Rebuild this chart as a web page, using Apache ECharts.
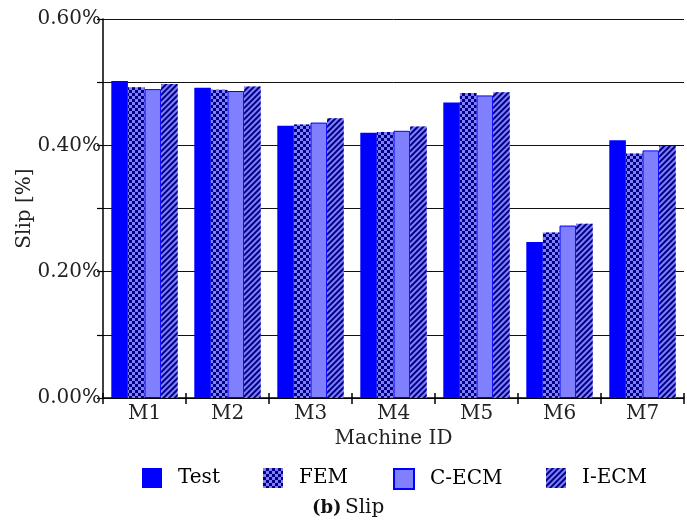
<!DOCTYPE html>
<html>
<head>
<meta charset="utf-8">
<script src="https://cdn.jsdelivr.net/npm/echarts@6/dist/echarts.min.js"></script>
<style>html,body{margin:0;padding:0;background:#fff}#c{width:687px;height:531px}</style>
</head>
<body>
<div id="c"></div>
<script>
const categories = ['M1','M2','M3','M4','M5','M6','M7'];
const seriesNames = ['Test','FEM','C-ECM','I-ECM'];
const testVals = [0.502,0.491,0.431,0.420,0.468,0.247,0.408];
const femVals  = [0.492,0.488,0.433,0.421,0.483,0.262,0.387];
const cecmVals = [0.489,0.486,0.436,0.423,0.479,0.273,0.392];
const iecmVals = [0.497,0.493,0.443,0.430,0.484,0.276,0.399];
const yTicks = [0, 0.2, 0.4, 0.6];

const FONT = 'DejaVu Serif';
const chart = echarts.init(document.getElementById('c'), null, {renderer:'canvas'});

const femDecal = {symbol:'rect', symbolSize:1, color:'#000080',
  dashArrayX:[[3,3],[0,3,3,0]], dashArrayY:[3,0], rotation:0};
const iecmDecal = {symbol:'rect', symbolSize:1, color:'#000080',
  dashArrayX:[1,0], dashArrayY:[2,2], rotation:-Math.PI/4};

const styles = [
  {color:'#0000ff'},
  {color:'#8080ff', decal:femDecal},
  {color:'#8080ff', borderColor:'#0000ff', borderWidth:1},
  {color:'#8080ff', decal:iecmDecal}
];
const vals = [testVals, femVals, cecmVals, iecmVals];
const legendLefts = [142, 263, 393, 546];

chart.setOption({
  animation:false,
  grid:{left:103, top:19, right:3, bottom:133, containLabel:false},
  legend: seriesNames.map((n,i)=>({
    data:[n], left:legendLefts[i], top:468, itemWidth:20, itemHeight:20,
    icon:'rect', padding:0,
    textStyle:{fontFamily:FONT, fontSize:20, color:'#000', padding:[0,0,0,11]}
  })),
  xAxis:[{
    type:'category', data:categories,
    axisLine:{lineStyle:{color:'#000', width:1.5}},
    axisTick:{show:true, length:6, lineStyle:{color:'#000', width:1.5}},
    axisLabel:{fontFamily:FONT, fontSize:20, color:'#222', margin:6},
    name:'Machine ID', nameLocation:'middle', nameGap:31, nameMoveOverlap:false,
    nameTextStyle:{fontFamily:FONT, fontSize:20, color:'#222'}
  },{
    type:'category', data:categories, position:'bottom',
    axisLine:{show:false},
    axisTick:{show:true, inside:true, length:5, lineStyle:{color:'#000', width:1.5}},
    axisLabel:{show:false}
  }],
  yAxis:{
    type:'value', min:0, max:0.6, interval:0.1,
    axisLine:{show:true, lineStyle:{color:'#000', width:1.5}},
    axisTick:{show:true, length:6, lineStyle:{color:'#000', width:1.2}},
    splitLine:{show:true, lineStyle:{color:'#111', width:1}},
    axisLabel:{fontFamily:FONT, fontSize:20, color:'#222', margin:2,
      formatter:v=>{const r=Math.round(v*10)/10; return yTicks.some(t=>Math.abs(t-r)<1e-9)? r.toFixed(2)+'%':'';}},
    name:'Slip [%]', nameLocation:'middle', nameGap:68, nameMoveOverlap:false,
    nameTextStyle:{fontFamily:FONT, fontSize:20, color:'#222'}
  },
  series: seriesNames.map((n,i)=>({
    name:n, type:'bar', data:vals[i], barGap:'0%', barCategoryGap:'20%',
    itemStyle:styles[i]
  })),
  graphic:[{
    type:'text', left:312, top:498,
    style:{
      text:'{b|(b)} {s|Slip}',
      rich:{
        b:{fontFamily:FONT, fontWeight:'bold', fontSize:18, fill:'#111'},
        s:{fontFamily:FONT, fontSize:20, fill:'#111'}
      }
    }
  }]
});
</script>
</body>
</html>
